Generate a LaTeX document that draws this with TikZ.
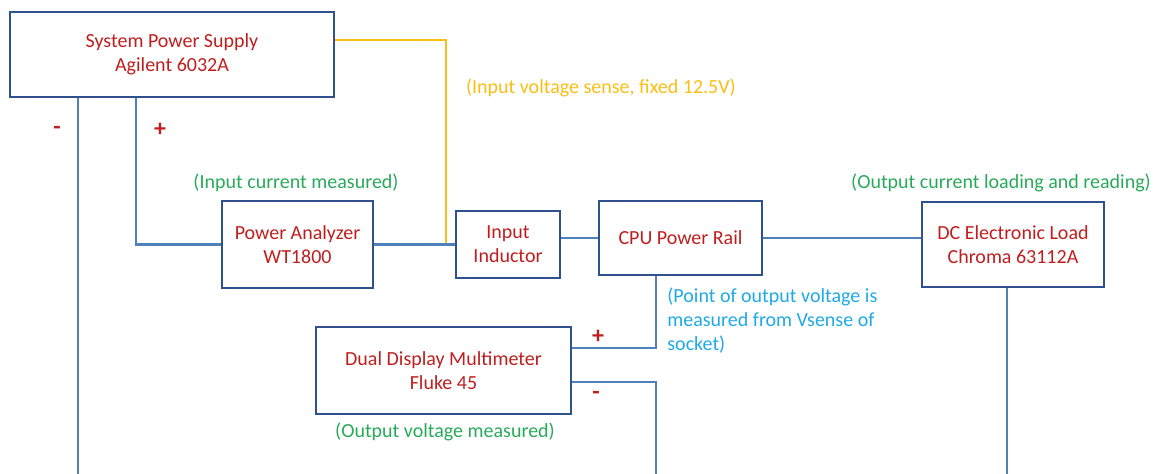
\documentclass[tikz,border=0pt]{standalone}
\usepackage{fontspec}
\setmainfont{Carlito}
\definecolor{bx}{RGB}{47,82,143}
\definecolor{ln}{RGB}{79,129,189}
\definecolor{r}{RGB}{192,30,30}
\definecolor{o}{RGB}{250,190,20}
\definecolor{g}{RGB}{40,170,90}
\definecolor{b}{RGB}{30,170,230}
\begin{document}
\begin{tikzpicture}[x=.5pt,y=-.5pt,every node/.style={font=\fontsize{10}{12}\selectfont},
  box/.style 2 args={draw=bx,line width=1.4pt,align=center,text=r,inner sep=0pt,minimum width=#1*.5pt,minimum height=#2*.5pt},
  wire/.style={ln,line width=1.2pt},sgn/.style={text=r,font=\bfseries\fontsize{12}{12}\selectfont}]
\useasboundingbox (0,0) rectangle (1157,474);
\node[box={324}{85}] (sps) at (172,54.5){System Power Supply\\Agilent 6032A};
\node[box={151}{87}] (pa) at (297.5,244.5){Power Analyzer\\WT1800};
\node[box={104}{67}] (ind) at (508,244.5){Input\\Inductor};
\node[box={163}{74}] (cpu) at (680.5,238){CPU Power Rail};
\node[box={182}{85}] (dcl) at (1013,244.5){DC Electronic Load\\Chroma 63112A};
\node[box={255}{87}] (dmm) at (443.5,370.5){Dual Display Multimeter\\Fluke 45};
\coordinate (sn) at (446,244.5);\coordinate (gm) at (78,474);\coordinate (gl) at (1007,474);\coordinate (gv) at (656,474);
\draw[o,line width=1.2pt] (sps.east|-0,40)--(446,40)--(sn);
\draw[wire] (sps.south-|136,0)|-(pa.west);\draw[wire] (sps.south-|gm)--(gm);
\draw[wire] (pa.east)--(ind.west);\draw[wire] (ind.east|-cpu.west)--(cpu.west);
\draw[wire] (cpu.east)--(cpu.east-|dcl.west);\draw[wire] (dcl.south-|gl)--(gl);
\draw[wire] (cpu.south-|gv)|-(dmm.east|-0,348);\draw[wire] (dmm.east|-0,382)-|(gv);
\node[text=o,anchor=west] (vs) at (459,88){(Input voltage sense, fixed 12.5V)};
\node[text=g] (ic) at (296,183){(Input current measured)};
\node[text=g] (oc) at (1001,183){(Output current loading and reading)};
\node[text=b,anchor=north west,align=left,inner sep=0pt] (pv) at (667,287){(Point of output voltage is\\measured from Vsense of\\socket)};
\node[text=g] (ov) at (445,432){(Output voltage measured)};
\node[sgn] (m1) at (57,130){-};\node[sgn] (p1) at (160,130){+};
\node[sgn] (p2) at (598,337){+};\node[sgn] (m2) at (596,395){-};
\end{tikzpicture}
\end{document}
